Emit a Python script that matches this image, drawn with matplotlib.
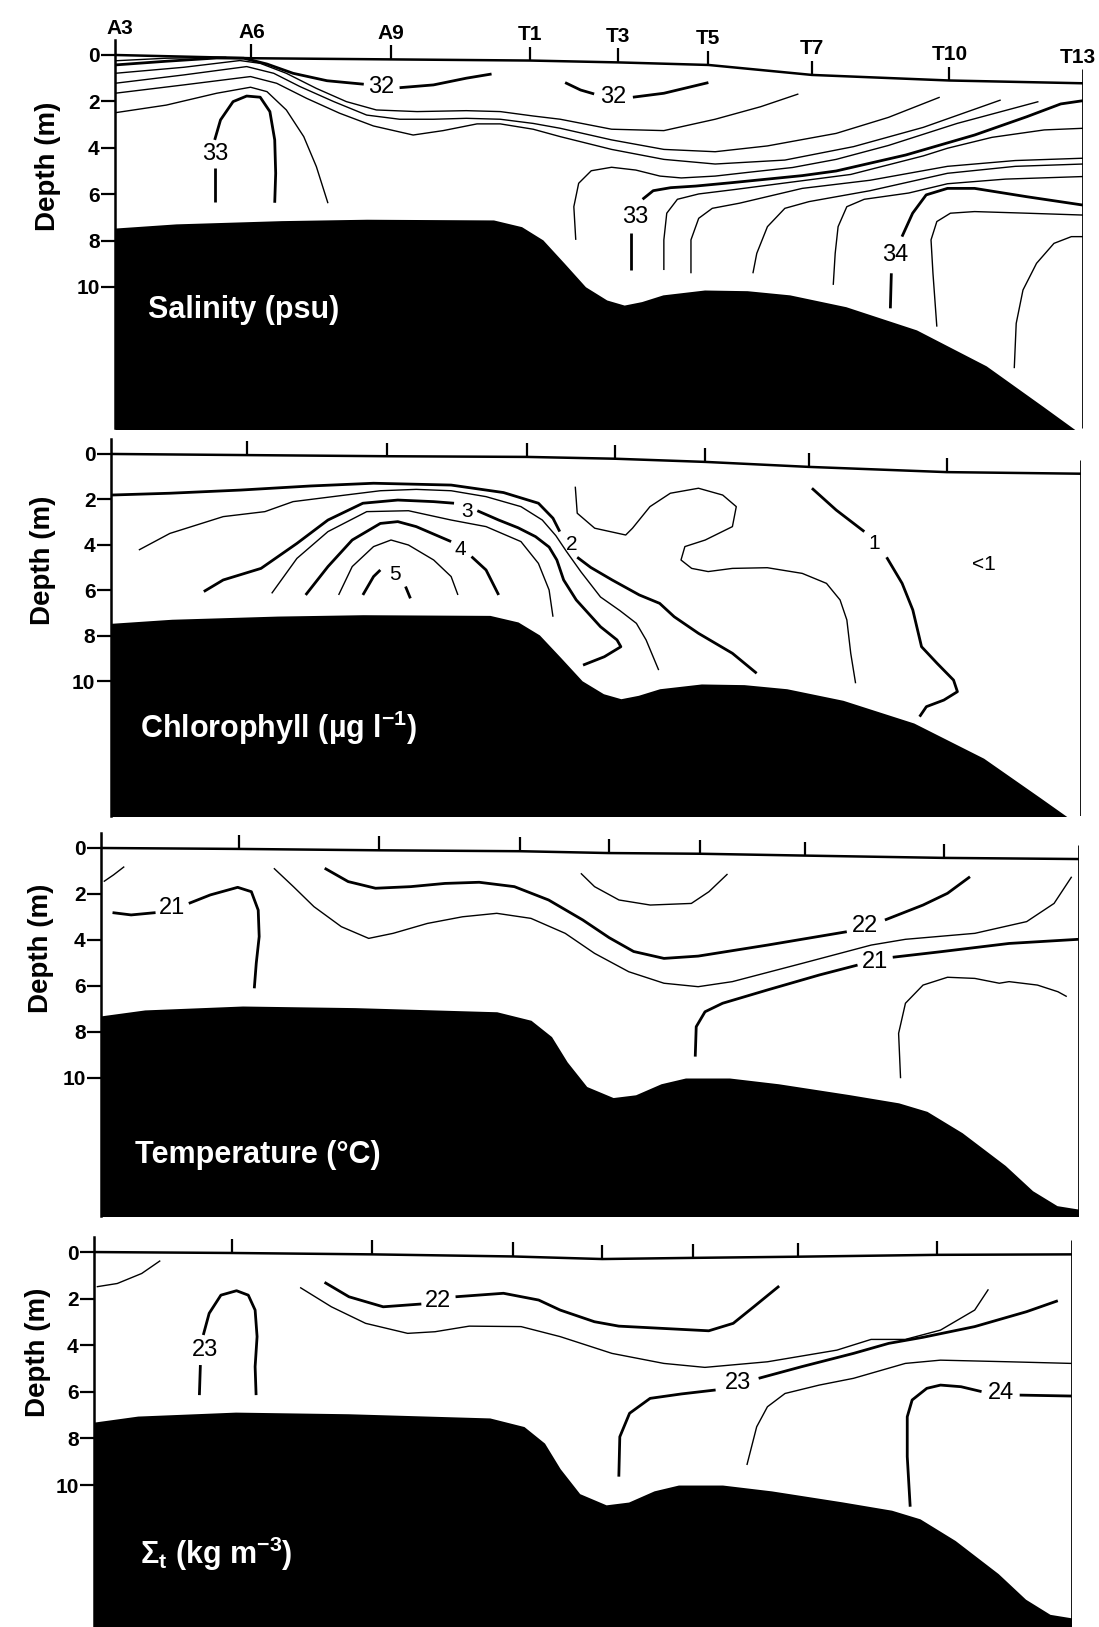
import matplotlib
matplotlib.use('Agg')
import matplotlib.pyplot as plt
import matplotlib.transforms as mtransforms
import numpy as np

W, H = 1099, 1627
NARROW = ['Liberation Sans Narrow', 'Liberation Sans', 'DejaVu Sans']
plt.rcParams['font.family'] = NARROW
plt.rcParams['mathtext.fontset'] = 'custom'
plt.rcParams['mathtext.rm'] = 'Liberation Sans:bold'
plt.rcParams['mathtext.it'] = 'Liberation Sans:bold'
plt.rcParams['mathtext.bf'] = 'Liberation Sans:bold'

THICK, THIN = 2.0, 1.0

# stations along the section (distance units, A3 = 0, T13 = 10)
stations = ['A3', 'A6', 'A9', 'T1', 'T3', 'T5', 'T7', 'T10', 'T13']
station_x = [0, 1.41, 2.85, 4.29, 5.2, 6.13, 7.2, 8.62, 10.0]
station_name_x = [0.05, 1.41, 2.85, 4.29, 5.2, 6.13, 7.2, 8.62, 9.95]
depth_ticks = [0, 2, 4, 6, 8, 10]

# sea surface (m) under each station, per panel
surf_sal = [0, 0.14, 0.19, 0.24, 0.32, 0.43, 0.86, 1.1, 1.22]
surf_chl = [0, 0.05, 0.1, 0.13, 0.21, 0.35, 0.57, 0.8, 0.87]
surf_tmp = [0, 0.04, 0.1, 0.14, 0.22, 0.25, 0.33, 0.43, 0.48]
surf_sig = [0, 0.04, 0.1, 0.19, 0.3, 0.25, 0.2, 0.12, 0.1]

# bottom profiles
bathy_a_x = [0, 0.63, 1.72, 2.6, 3.91, 4.2, 4.42, 4.64, 4.86, 5.08, 5.26, 5.44, 5.66,
             6.09, 6.53, 6.97, 7.55, 8.28, 9.0, 9.59, 10.0]
bathy_a_d = [7.46, 7.28, 7.14, 7.08, 7.11, 7.4, 7.97, 8.97, 9.99, 10.56, 10.78, 10.63, 10.34,
             10.13, 10.16, 10.34, 10.85, 11.85, 13.4, 15.16, 16.4]
bathy_b_x = [0, 0.45, 1.45, 2.6, 4.05, 4.4, 4.61, 4.77, 4.97, 5.24, 5.47, 5.73, 5.98,
             6.43, 6.93, 7.65, 8.16, 8.45, 8.81, 9.25, 9.53, 9.78, 10.0]
bathy_b_d = [7.3, 7.04, 6.87, 6.94, 7.12, 7.49, 8.2, 9.3, 10.37, 10.85, 10.73, 10.25, 10.0,
             10.0, 10.25, 10.72, 11.08, 11.45, 12.38, 13.8, 14.9, 15.55, 15.7]

# ---- salinity isolines (x, depth) ----
sal_top = [(0, 0.25), (0.53, 0.14), (1.15, 0.1)]
sal_32a_l = [(0, 0.43), (0.53, 0.27), (1.05, 0.13), (1.33, 0.14), (1.57, 0.39), (1.84, 0.79),
             (2.19, 1.11), (2.57, 1.26)]
sal_32a_r = [(2.94, 1.41), (3.29, 1.29), (3.63, 1.0), (3.89, 0.82)]
sal_m1 = [(0, 0.79), (0.71, 0.53), (1.29, 0.24), (1.5, 0.36), (1.77, 0.79), (2.08, 1.44),
          (2.39, 2.01), (2.7, 2.37), (3.12, 2.44), (3.63, 2.4), (3.98, 2.44), (4.32, 2.63),
          (4.6, 2.77), (5.13, 3.2), (5.67, 3.26), (6.2, 2.77), (6.67, 2.23), (7.06, 1.68)]
sal_m2 = [(0, 1.22), (0.71, 0.86), (1.36, 0.5), (1.64, 0.79), (1.91, 1.36), (2.26, 2.01),
          (2.6, 2.59), (2.94, 2.77), (3.29, 2.77), (3.63, 2.73), (3.98, 2.77), (4.32, 2.95),
          (4.6, 3.16), (5.13, 3.66), (5.67, 4.07), (6.2, 4.17), (6.74, 3.92), (7.45, 3.38),
          (7.99, 2.69), (8.52, 1.82)]
sal_m3 = [(0, 1.65), (0.71, 1.29), (1.4, 0.93), (1.67, 1.22), (1.98, 1.87), (2.32, 2.51),
          (2.67, 3.06), (3.08, 3.45), (3.39, 3.26), (3.74, 2.97), (3.98, 2.97), (4.32, 3.2),
          (4.6, 3.52), (5.13, 4.07), (5.67, 4.5), (6.2, 4.7), (6.92, 4.53), (7.63, 3.95),
          (8.35, 3.12), (9.15, 1.94)]
sal_m4 = [(0, 2.49), (0.53, 2.16), (1.05, 1.65), (1.4, 1.39), (1.57, 1.58), (1.77, 2.37),
          (1.95, 3.52), (2.08, 4.81), (2.2, 6.39)]
sal_33a = [(1.03, 3.66), (1.09, 2.8), (1.22, 2.01), (1.36, 1.77), (1.5, 1.82), (1.6, 2.44),
           (1.65, 3.66), (1.66, 5.1), (1.65, 6.37)]
sal_33a_stub = [(1.03, 4.89), (1.03, 6.32)]
sal_32b_l = [(4.65, 1.19), (4.81, 1.51), (4.95, 1.68)]
sal_32b_r = [(5.35, 1.82), (5.67, 1.65), (6.13, 1.19)]
sal_bump = [(4.76, 7.97), (4.74, 6.54), (4.79, 5.53), (4.92, 4.99), (5.13, 4.84), (5.38, 4.96),
            (5.63, 5.22), (5.85, 5.3), (6.2, 5.22), (6.56, 5.05), (7.0, 4.85), (7.45, 4.5),
            (7.99, 3.9), (8.7, 2.95), (9.54, 2.01)]
sal_33b = [(5.45, 6.22), (5.56, 5.85), (5.74, 5.72), (6.0, 5.65), (6.38, 5.5), (7.1, 5.2),
           (7.45, 5.0), (8.17, 4.31), (8.88, 3.45), (9.42, 2.66), (9.77, 2.11), (10.0, 1.97)]
sal_33b_stub = [(5.33, 7.69), (5.33, 9.27)]
sal_r2 = [(5.67, 9.27), (5.67, 7.97), (5.7, 6.82), (5.81, 6.22), (6.03, 5.99), (6.4, 5.8),
          (7.1, 5.42), (7.6, 5.15), (8.35, 4.35), (8.6, 4.02), (9.06, 3.55), (9.6, 3.23),
          (10.0, 3.16)]
sal_r3 = [(5.95, 9.41), (5.95, 7.97), (6.03, 7.04), (6.17, 6.61), (6.45, 6.39), (7.1, 5.75),
          (7.8, 5.4), (8.6, 4.8), (9.3, 4.55), (10.0, 4.45)]
sal_r4 = [(6.59, 9.41), (6.63, 8.55), (6.74, 7.4), (6.92, 6.61), (7.17, 6.32), (7.8, 5.85),
          (8.6, 5.1), (9.3, 4.8), (10.0, 4.7)]
sal_v5 = [(7.42, 9.91), (7.44, 8.55), (7.47, 7.4), (7.56, 6.54), (7.74, 6.22), (8.2, 5.95),
          (8.6, 5.55), (9.2, 5.35), (10.0, 5.24)]
sal_34_stub = [(8.01, 10.92), (8.02, 9.41)]
sal_34 = [(8.13, 7.83), (8.24, 6.82), (8.38, 6.03), (8.6, 5.75), (8.88, 5.75), (9.42, 6.11),
          (10.0, 6.47)]
sal_v7 = [(8.49, 11.71), (8.45, 9.41), (8.43, 7.97), (8.49, 7.18), (8.63, 6.82), (8.88, 6.75),
          (9.42, 6.82), (10.0, 6.9)]
sal_v8 = [(9.29, 13.5), (9.31, 11.57), (9.38, 10.13), (9.52, 8.98), (9.7, 8.12), (9.88, 7.83),
          (10.0, 7.83)]
sal_labels = [(2.755, 1.36, '32'), (1.03, 4.27, '33'), (5.15, 1.8, '32'), (5.37, 6.97, '33'),
              (8.06, 8.62, '34')]

# ---- chlorophyll isolines ----
chl_2a = [(0, 1.81), (0.61, 1.73), (1.34, 1.59), (2.06, 1.41), (2.71, 1.29), (3.51, 1.37),
          (4.05, 1.7), (4.41, 2.17), (4.56, 2.83), (4.63, 3.42)]
chl_2b = [(4.81, 4.55), (4.95, 5.0), (5.17, 5.55), (5.45, 6.21), (5.66, 6.58), (5.81, 7.17),
          (6.06, 7.9), (6.41, 8.78), (6.66, 9.66)]
chl_b = [(0.29, 4.23), (0.61, 3.5), (1.16, 2.76), (1.59, 2.54), (1.88, 2.1), (2.42, 1.81),
         (2.78, 1.62), (3.15, 1.56), (3.51, 1.62), (3.87, 1.88), (4.23, 2.32), (4.45, 2.91),
         (4.59, 3.6), (4.7, 4.3), (4.85, 5.2), (5.05, 6.3), (5.25, 6.9), (5.42, 7.46),
         (5.52, 8.19), (5.65, 9.52)]
chl_3a = [(0.96, 6.06), (1.16, 5.55), (1.55, 5.04), (1.92, 3.94), (2.24, 2.91), (2.6, 2.17),
          (2.96, 2.03), (3.33, 2.1), (3.54, 2.17)]
chl_3b = [(3.78, 2.5), (4.0, 2.91), (4.2, 3.25), (4.38, 3.64), (4.52, 4.1), (4.6, 4.67),
          (4.67, 5.55), (4.8, 6.43), (5.05, 7.61), (5.22, 8.19), (5.26, 8.49), (5.09, 8.93),
          (4.87, 9.3)]
chl_d = [(1.66, 6.14), (1.92, 4.6), (2.24, 3.42), (2.64, 2.54), (3.07, 2.5), (3.51, 2.91),
         (3.87, 3.2), (4.23, 3.86), (4.41, 4.82), (4.52, 5.99), (4.56, 7.17)]
chl_4a = [(2.01, 6.21), (2.24, 4.96), (2.49, 3.79), (2.78, 3.06), (2.96, 2.98), (3.15, 3.2),
          (3.51, 3.86)]
chl_4b = [(3.72, 4.52), (3.87, 5.11), (4.0, 6.21)]
chl_f = [(2.35, 6.21), (2.49, 4.96), (2.71, 4.08), (2.89, 3.79), (3.07, 4.01), (3.33, 4.67),
         (3.51, 5.4), (3.58, 6.21)]
chl_5a = [(2.6, 6.21), (2.71, 5.4), (2.78, 5.11)]
chl_5b = [(3.04, 5.84), (3.09, 6.36)]
chl_blob = [(4.79, 1.44), (4.81, 2.61), (4.99, 3.27), (5.31, 3.57), (5.38, 3.27), (5.56, 2.32),
            (5.77, 1.73), (6.06, 1.51), (6.31, 1.81), (6.45, 2.32), (6.41, 3.2), (6.13, 3.79),
            (5.92, 4.08), (5.88, 4.67), (5.99, 5.04), (6.16, 5.18), (6.41, 5.04), (6.77, 5.01),
            (7.13, 5.26), (7.38, 5.7), (7.52, 6.43), (7.59, 7.31), (7.63, 8.78), (7.68, 10.1)]
chl_1a = [(7.23, 1.51), (7.48, 2.47), (7.77, 3.42)]
chl_1b = [(8.0, 4.55), (8.16, 5.7), (8.27, 6.87), (8.36, 8.49), (8.52, 9.22), (8.69, 9.96),
          (8.73, 10.47), (8.59, 10.84), (8.41, 11.13), (8.34, 11.57)]
chl_labels = [(4.75, 3.97, '2'), (3.67, 2.52, '3'), (3.6, 4.22, '4'), (2.93, 5.33, '5'),
              (7.87, 3.95, '1'), (9.0, 4.89, '<1')]

# ---- temperature isolines ----
tmp_tl = [(0.03, 1.46), (0.13, 1.17), (0.24, 0.81)]
tmp_21a = [(0.12, 2.81), (0.31, 2.91), (0.56, 2.81)]
tmp_21b = [(0.9, 2.41), (1.12, 2.04), (1.4, 1.71), (1.54, 1.9), (1.61, 2.7), (1.62, 3.85),
           (1.59, 5.01), (1.57, 6.1)]
tmp_thin = [(1.77, 0.88), (1.97, 1.68), (2.18, 2.55), (2.46, 3.42), (2.74, 3.93), (2.99, 3.71),
            (3.34, 3.28), (3.7, 2.99), (4.05, 2.84), (4.4, 3.06), (4.75, 3.71), (5.05, 4.58),
            (5.4, 5.38), (5.76, 5.88), (6.11, 6.03), (6.46, 5.81), (7.17, 5.02), (7.88, 4.22),
            (8.23, 3.97), (8.94, 3.71), (9.47, 3.2), (9.75, 2.41), (9.93, 1.25)]
tmp_22a = [(2.29, 0.88), (2.53, 1.46), (2.81, 1.75), (3.17, 1.68), (3.52, 1.54), (3.87, 1.49),
           (4.23, 1.68), (4.58, 2.26), (4.93, 3.13), (5.2, 3.9), (5.45, 4.5), (5.76, 4.8),
           (6.11, 4.7), (6.82, 4.22), (7.63, 3.64)]
tmp_22b = [(8.02, 3.13), (8.41, 2.48), (8.66, 1.97), (8.89, 1.25)]
tmp_arc = [(4.91, 1.1), (5.05, 1.68), (5.3, 2.26), (5.62, 2.48), (6.04, 2.41), (6.22, 1.9),
           (6.41, 1.13)]
tmp_21c = [(6.08, 9.07), (6.09, 7.77), (6.18, 7.12), (6.36, 6.75), (6.82, 6.17), (7.35, 5.52),
           (7.74, 5.09)]
tmp_21d = [(8.1, 4.75), (8.59, 4.51), (9.29, 4.15), (10.0, 3.97)]
tmp_bump = [(8.18, 10.01), (8.16, 8.06), (8.23, 6.75), (8.41, 5.96), (8.66, 5.62), (8.94, 5.67),
            (9.19, 5.88), (9.29, 5.81), (9.58, 5.96), (9.79, 6.25), (9.88, 6.46)]
tmp_labels = [(0.73, 2.6, '21'), (7.82, 3.38, '22'), (7.92, 4.95, '21')]

# ---- sigma-t isolines ----
sig_tl = [(0.03, 1.49), (0.24, 1.35), (0.49, 0.92), (0.68, 0.37)]
sig_23a_stub = [(1.08, 6.14), (1.09, 4.85)]
sig_23a = [(1.12, 3.56), (1.18, 2.63), (1.3, 1.85), (1.46, 1.66), (1.58, 1.85), (1.65, 2.49),
           (1.67, 3.63), (1.65, 4.92), (1.66, 6.14)]
sig_22a = [(2.36, 1.3), (2.61, 1.92), (2.96, 2.35), (3.35, 2.23)]
sig_22b = [(3.7, 1.92), (4.19, 1.77), (4.55, 2.06), (4.77, 2.49), (5.12, 2.99), (5.37, 3.18),
           (5.83, 3.28), (6.29, 3.38), (6.54, 3.06), (6.75, 2.35), (7.01, 1.46)]
sig_thin1 = [(2.11, 1.52), (2.43, 2.35), (2.78, 3.06), (3.21, 3.49), (3.49, 3.42), (3.84, 3.18),
             (4.37, 3.2), (4.77, 3.63), (5.3, 4.35), (5.83, 4.78), (6.25, 4.95), (6.89, 4.71),
             (7.6, 4.21), (7.95, 3.75), (8.3, 3.75), (8.66, 3.35), (9.01, 2.49), (9.15, 1.6)]
sig_23b = [(5.37, 9.64), (5.38, 7.93), (5.48, 6.92), (5.69, 6.28), (6.01, 6.09), (6.36, 5.92)]
sig_23c = [(6.8, 5.42), (7.24, 4.92), (7.77, 4.35), (8.13, 3.92), (8.48, 3.66), (9.01, 3.2),
           (9.54, 2.56), (9.86, 2.09)]
sig_thin2 = [(6.68, 9.14), (6.78, 7.5), (6.89, 6.64), (7.07, 6.07), (7.42, 5.71), (7.77, 5.42),
             (8.3, 4.78), (8.66, 4.64), (9.36, 4.71), (10.0, 4.78)]
sig_24a = [(8.35, 10.93), (8.32, 8.78), (8.32, 7.07), (8.37, 6.35), (8.52, 5.85), (8.66, 5.71),
           (8.87, 5.78), (9.08, 5.99)]
sig_24b = [(9.47, 6.14), (10.0, 6.18)]
sig_labels = [(1.14, 4.21, '23'), (3.52, 2.09, '22'), (6.59, 5.64, '23'), (9.28, 6.04, '24')]


def iso(ax, pts, thick=False):
    xs, ds = zip(*pts)
    ax.plot(xs, ds, color='k', lw=THICK if thick else THIN, solid_joinstyle='round',
            solid_capstyle='butt', zorder=2)


def labels(ax, items, size):
    for x, d, s in items:
        ax.text(x, d, s, ha='center', va='center', fontsize=size, zorder=4)


def panel(fig, box, ybot, surf, bx, bd, title, title_xy, ylab_xy, names=False):
    left, top, right, bottom = box
    ax = fig.add_axes([left / W, 1 - bottom / H, (right - left) / W, (bottom - top) / H])
    ax.set_xlim(0, 10)
    ax.set_ylim(ybot, -0.65)
    ax.fill_between(bx, bd, ybot + 1, color='k', lw=0, zorder=3)
    s = np.array(surf)
    ax.plot(station_x, s, color='k', lw=1.8, zorder=4)
    ax.vlines(station_x[:-1], s[:-1] - 0.6, s[:-1], color='k', lw=1.6, zorder=4)
    ax.vlines(station_x[-1], s[-1] - 0.6, ybot, color='k', lw=2.0, zorder=4)
    for sp in ['top', 'right', 'bottom']:
        ax.spines[sp].set_visible(False)
    ax.spines['left'].set_linewidth(1.8)
    ax.set_xticks([])
    ax.set_yticks(depth_ticks)
    ax.set_yticklabels([str(t) for t in depth_ticks], fontweight='bold')
    ax.tick_params(axis='y', direction='out', length=10, width=1.6, pad=1, labelsize=15)
    trans = mtransforms.blended_transform_factory(ax.transAxes, ax.transData)
    ax.text(ylab_xy[0], ylab_xy[1], 'Depth (m)', transform=trans, rotation=90, ha='center',
            va='center', fontsize=20, fontweight='bold', family=['Liberation Sans', 'DejaVu Sans'])
    ax.text(title_xy[0], title_xy[1], title, color='white', fontsize=22, fontweight='bold',
            ha='left', va='baseline', zorder=5)
    if names:
        for x, sd, n in zip(station_name_x, s, stations):
            ax.text(x, sd - 0.72, n, ha='center', va='bottom', fontsize=15, fontweight='bold',
                    clip_on=False)
    return ax


fig = plt.figure(figsize=(W / 100, H / 100), dpi=100)

# salinity
ax = panel(fig, (115, 39.9, 1083, 428.5), 16.1, surf_sal, bathy_a_x, bathy_a_d,
           'Salinity (psu)', (0.34, 11.35), (-0.069, 4.8), names=True)
for pts in [sal_top, sal_m1, sal_m2, sal_m3, sal_m4, sal_bump, sal_r2, sal_r3, sal_r4,
            sal_v5, sal_v7, sal_v8]:
    iso(ax, pts)
for pts in [sal_32a_l, sal_32a_r, sal_33a, sal_33a_stub, sal_32b_l, sal_32b_r, sal_33b,
            sal_33b_stub, sal_34_stub, sal_34]:
    iso(ax, pts, True)
labels(ax, sal_labels, 17)

# chlorophyll
ax = panel(fig, (110.7, 439.2, 1080.6, 816.1), 15.95, surf_chl, bathy_a_x, bathy_a_d,
           r'Chlorophyll (µg l$^{-1}$)', (0.30, 12.5), (-0.070, 4.67))
for pts in [chl_b, chl_d, chl_f, chl_blob]:
    iso(ax, pts)
for pts in [chl_2a, chl_2b, chl_3a, chl_3b, chl_4a, chl_4b, chl_5a, chl_5b, chl_1a, chl_1b]:
    iso(ax, pts, True)
labels(ax, chl_labels, 15)

# temperature
ax = panel(fig, (100.8, 833.05, 1078.5, 1216), 16.0, surf_tmp, bathy_b_x, bathy_b_d,
           'Temperature (°C)', (0.35, 13.7), (-0.061, 4.35))
for pts in [tmp_tl, tmp_thin, tmp_arc, tmp_bump]:
    iso(ax, pts)
for pts in [tmp_21a, tmp_21b, tmp_22a, tmp_22b, tmp_21c, tmp_21d]:
    iso(ax, pts, True)
labels(ax, tmp_labels, 17)

# sigma-t
ax = panel(fig, (93.8, 1236.9, 1071.5, 1626), 16.05, surf_sig, bathy_b_x, bathy_b_d,
           r'$\Sigma_t$ (kg m$^{-3}$)', (0.47, 13.4), (-0.057, 4.3))
for pts in [sig_tl, sig_thin1, sig_thin2]:
    iso(ax, pts)
for pts in [sig_23a_stub, sig_23a, sig_22a, sig_22b, sig_23b, sig_23c, sig_24a, sig_24b]:
    iso(ax, pts, True)
labels(ax, sig_labels, 17)

fig.savefig('out.png', dpi=100, facecolor='white')
